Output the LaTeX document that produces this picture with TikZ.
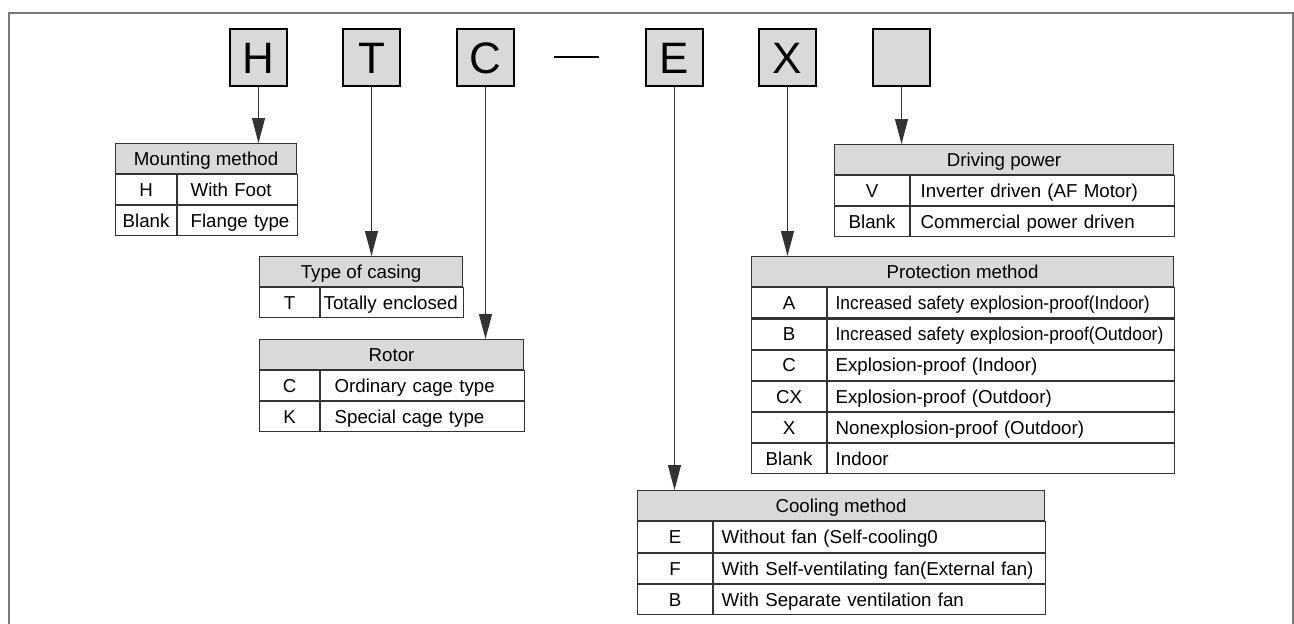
\documentclass[tikz,border=0pt]{standalone}
\usepackage{fontspec}
\setmainfont{Liberation Sans}
\usetikzlibrary{arrows.meta}
\definecolor{tline}{HTML}{333333}
\definecolor{hfill}{HTML}{D9D9D9}
\definecolor{framecol}{HTML}{7A7A7A}
\newcommand\tfont{\fontsize{18.7}{22}\selectfont}
\newcommand\lfont{\fontsize{44}{50}\selectfont}
\newcommand\sqz[1]{\scalebox{0.93}[1]{#1}}
% #1 row name, #2 node above, #3 key width, #4 value width, #5 pad, #6 height, #7 key, #8 value
\newcommand\tabrow[8]{%
  \node[keycell, minimum width=#3pt, minimum height=#6pt, anchor=north west] (#1k) at (#2.south west) {#7};
  \node[valcell, minimum width=#4pt, text width=#4pt, minimum height=#6pt, anchor=north west] (#1v) at (#1k.north east) {\hspace*{#5pt}#8};
}
\begin{document}
\begin{tikzpicture}[x=1pt,y=-1pt,
  letterbox/.style={draw=black, fill=hfill, line width=2pt, minimum size=57pt, inner sep=0pt, font=\lfont, text height=31.5pt, text depth=0pt},
  hdr/.style={draw=tline, fill=hfill, line width=1.1pt, inner sep=0pt, minimum height=30pt, anchor=north west, font=\tfont, text height=13.4pt, text depth=0pt},
  keycell/.style={draw=tline, line width=1.1pt, inner sep=0pt, font=\tfont, text height=13.4pt, text depth=0pt},
  valcell/.style={draw=tline, line width=1.1pt, inner sep=0pt, align=left, font=\tfont, text height=13.4pt, text depth=0pt},
  arr/.style={draw=tline, line width=1pt, -{Triangle[length=25pt,width=13pt]}},
  frameline/.style={draw=framecol, line width=2pt}
]
\useasboundingbox (0,0) rectangle (1294,624);
\draw[frameline] (9,624) -- (9,13) -- (1293,13) -- (1293,624);

% letter boxes
\node[letterbox] (H) at (258.5,57.5) {H};
\node[letterbox] (T) at (371.5,57.5) {T};
\node[letterbox] (C) at (485.5,57.5) {C};
\node[letterbox] (E) at (674.5,57.5) {E};
\node[letterbox] (X) at (787.5,57.5) {X};
\node[letterbox] (B) at (901.5,57.5) {};
\draw[line width=1.5pt] (554,57) -- (599,57);

% Mounting method
\node[hdr, minimum width=181pt] (mh) at (115,143) {Mounting method};
\tabrow{mha}{mh}{61}{120}{13}{30}{H}{With Foot}
\tabrow{mhb}{mhak}{61}{120}{13}{30}{Blank}{Flange type}

% Type of casing
\node[hdr, minimum width=203pt] (tc) at (259,256) {Type of casing};
\tabrow{tca}{tc}{60}{143}{3}{30}{T}{Totally enclosed}

% Rotor
\node[hdr, minimum width=264pt] (ro) at (259,339) {Rotor};
\tabrow{roa}{ro}{60}{204}{14}{30}{C}{Ordinary cage type}
\tabrow{rob}{roak}{60}{204}{14}{30}{K}{Special cage type}

% Driving power
\node[hdr, minimum width=339pt] (dp) at (834,144) {Driving power};
\tabrow{dpa}{dp}{75}{264}{10}{30}{V}{Inverter driven (AF Motor)}
\tabrow{dpb}{dpak}{75}{264}{10}{30}{Blank}{Commercial power driven}

% Protection method
\node[hdr, minimum width=422pt, minimum height=30.1pt] (pm) at (751,256) {Protection method};
\tabrow{pma}{pm}{75}{347}{8}{30.1}{A}{\sqz{Increased safety explosion-proof(Indoor)}}
\tabrow{pmb}{pmak}{75}{347}{8}{30.1}{B}{\sqz{Increased safety explosion-proof(Outdoor)}}
\tabrow{pmc}{pmbk}{75}{347}{8}{30.1}{C}{Explosion-proof (Indoor)}
\tabrow{pmd}{pmck}{75}{347}{8}{30.1}{CX}{Explosion-proof (Outdoor)}
\tabrow{pme}{pmdk}{75}{347}{8}{30.1}{X}{Nonexplosion-proof (Outdoor)}
\tabrow{pmf}{pmek}{75}{347}{8}{30.1}{Blank}{Indoor}

% Cooling method
\node[hdr, minimum width=407pt, minimum height=30.25pt] (cm) at (637,490) {Cooling method};
\tabrow{cma}{cm}{75}{332}{8}{30.25}{E}{Without fan (Self-cooling0}
\tabrow{cmb}{cmak}{75}{332}{8}{30.25}{F}{With Self-ventilating fan(External fan)}
\tabrow{cmc}{cmbk}{75}{332}{8}{30.25}{B}{With Separate ventilation fan}

% arrows
\draw[arr] (H.south) -- (H.south |- mh.north);
\draw[arr] (T.south) -- (T.south |- tc.north);
\draw[arr] (C.south) -- (C.south |- ro.north);
\draw[arr] (E.south) -- (E.south |- cm.north);
\draw[arr] (X.south) -- (X.south |- pm.north);
\draw[arr] (B.south) -- (B.south |- dp.north);
\end{tikzpicture}
\end{document}
